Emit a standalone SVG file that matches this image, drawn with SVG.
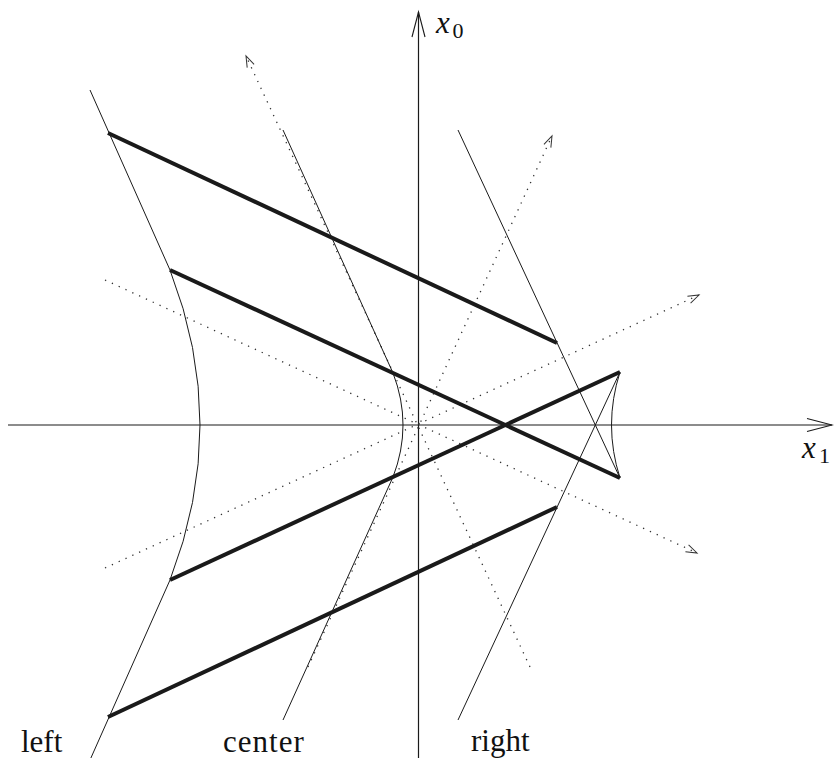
<svg xmlns="http://www.w3.org/2000/svg" width="834" height="758" viewBox="0 0 834 758">
<style>
.thin{fill:none;stroke:#1a1a1a;stroke-width:1}
.axis{fill:none;stroke:#1a1a1a;stroke-width:1.2}
.thick{fill:none;stroke:#1a1a1a;stroke-width:4}
.dot{fill:none;stroke:#333;stroke-width:1.3;stroke-dasharray:1.3 6.2}
</style>
<defs>
<marker id="ax" markerUnits="userSpaceOnUse" orient="auto" overflow="visible" markerWidth="1" markerHeight="1">
<path d="M-25,-6.5 L0,0 L-25,6.5" fill="none" stroke="#1a1a1a" stroke-width="1.1" stroke-dasharray="none"/>
</marker>
<marker id="ah" markerUnits="userSpaceOnUse" orient="auto" overflow="visible" markerWidth="1" markerHeight="1">
<path d="M-11,-3.8 L0,0 L-11,3.8" fill="none" stroke="#333" stroke-width="1" stroke-dasharray="none"/>
</marker>
</defs>
<g id="axes">
<path class="axis" d="M8,425 L832,425" marker-end="url(#ax)"/>
<path class="axis" d="M418.5,758 L418.5,12" marker-end="url(#ax)"/>
</g>
<g id="frame-axes">
<path class="dot" d="M530,667 L246,56" marker-end="url(#ah)"/>
<path class="dot" d="M308,667 L552,136" marker-end="url(#ah)"/>
<path class="dot" d="M105,568 L699,295" marker-end="url(#ah)"/>
<path class="dot" d="M105,280 L697,553" marker-end="url(#ah)"/>
</g>
<g id="worldlines">
<path id="left-curve" class="thin" d="M90,90 L170,270 Q230,425 170,580 L90,760"/>
<path id="center-curve" class="thin" d="M283,130 L393,373 Q413,425 393,477 L283,720"/>
<path id="right-curve" class="thin" d="M458,130 L620,478 Q603,425 620,372 L458,720"/>
</g>
<g id="rods">
<path class="thick" d="M108,133 L557,343"/>
<path class="thick" d="M170,270 L620,478"/>
<path class="thick" d="M170,580 L620,372"/>
<path class="thick" d="M108,717 L557,507"/>
</g>
<g id="labels" fill="#111">
<text x="436" y="33" font-family="Liberation Serif, Tinos, Times New Roman, serif" font-size="31" font-style="italic">x</text>
<text x="452.5" y="37.5" font-family="Liberation Serif, Tinos, Times New Roman, serif" font-size="22">0</text>
<text x="802" y="458" font-family="Liberation Serif, Tinos, Times New Roman, serif" font-size="31" font-style="italic">x</text>
<text x="819" y="463" font-family="Liberation Serif, Tinos, Times New Roman, serif" font-size="22">1</text>
<text x="21" y="752" font-family="Liberation Serif, Tinos, Times New Roman, serif" font-size="31">left</text>
<text x="223" y="752" font-family="Liberation Serif, Tinos, Times New Roman, serif" font-size="31" letter-spacing="1">center</text>
<text x="471" y="751" font-family="Liberation Serif, Tinos, Times New Roman, serif" font-size="31">right</text>
</g>
</svg>
